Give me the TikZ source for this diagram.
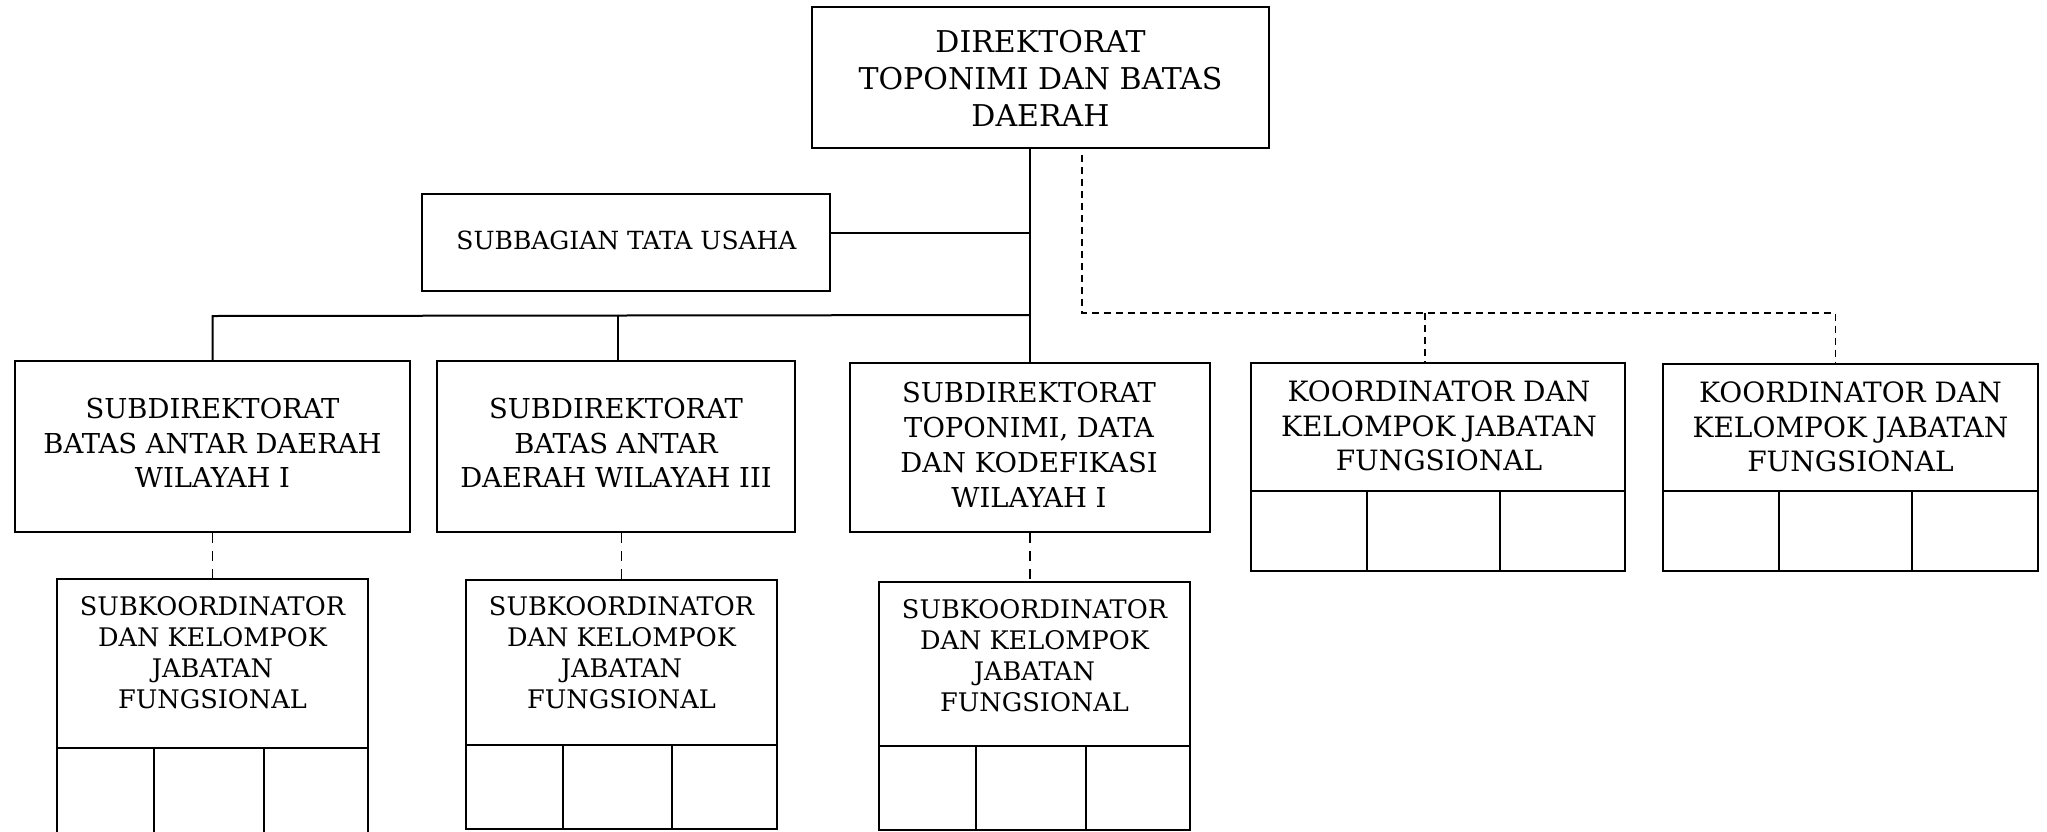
\documentclass[tikz,border=0pt]{standalone}
\usepackage{fontspec}
\setmainfont{DejaVu Serif}
\usetikzlibrary{fit}
\tikzset{
  box/.style={draw, line width=1pt, inner sep=0pt},
  cell/.style={draw, line width=1pt, inner sep=0pt},
  lbl/.style={align=center, inner sep=0pt},
  conn/.style={line width=1pt},
  dline/.style={line width=0.9pt, dash pattern=on 3.5pt off 2.5pt},
  dlow/.style={line width=0.9pt, dash pattern=on 5pt off 4pt},
  ftop/.style={font=\fontsize{15}{18.5}\selectfont},
  ftu/.style={font=\fontsize{12.5}{15}\selectfont},
  fsd/.style={font=\fontsize{13.7}{17.4}\selectfont},
  fko/.style={font=\fontsize{14}{17.2}\selectfont},
  fsk/.style={font=\fontsize{12.8}{15.5}\selectfont},
}
\begin{document}
\begin{tikzpicture}[x=0.5pt,y=-0.5pt]
\useasboundingbox (0,0) rectangle (2047,831);
\fill[white] (0,0) rectangle (2047,831);
\clip (0,0) rectangle (2047,831);

% main boxes
\node[box, fit={(812,7) (1269,148)}] (top) {};
\node[lbl, ftop] (topt) at (1040.5,78) {DIREKTORAT\\TOPONIMI DAN BATAS\\DAERAH};
\node[box, fit={(422,194) (830,291)}] (tu) {};
\node[lbl, ftu] (tut) at (626.5,240) {SUBBAGIAN TATA USAHA};
\node[box, fit={(15,361) (410,532)}] (sd1) {};
\node[lbl, fsd] (sd1t) at (212.5,443) {SUBDIREKTORAT\\BATAS ANTAR DAERAH\\WILAYAH I};
\node[box, fit={(437,361) (795,532)}] (sd2) {};
\node[lbl, fsd] (sd2t) at (616,443) {SUBDIREKTORAT\\BATAS ANTAR\\DAERAH WILAYAH III};
\node[box, fit={(850,363) (1210,532)}] (sd3) {};
\node[lbl, fsd] (sd3t) at (1029,445) {SUBDIREKTORAT\\TOPONIMI, DATA\\DAN KODEFIKASI\\WILAYAH I};

% koordinator boxes
\node[box, fit={(1251,363) (1625,491)}] (k1) {};
\node[lbl, fko] (k1t) at (1439,426) {KOORDINATOR DAN\\KELOMPOK JABATAN\\FUNGSIONAL};
\node[cell, fit={(1251,491) (1367,571)}] (k1a) {};
\node[cell, fit={(1367,491) (1500,571)}] (k1b) {};
\node[cell, fit={(1500,491) (1625,571)}] (k1c) {};
\node[box, fit={(1663,364) (2038,491)}] (k2) {};
\node[lbl, fko] (k2t) at (1850.5,427) {KOORDINATOR DAN\\KELOMPOK JABATAN\\FUNGSIONAL};
\node[cell, fit={(1663,491) (1779,571)}] (k2a) {};
\node[cell, fit={(1779,491) (1912,571)}] (k2b) {};
\node[cell, fit={(1912,491) (2038,571)}] (k2c) {};

% subkoordinator boxes
\node[box, fit={(57,579) (368,748)}] (sk1) {};
\node[lbl, fsk] (sk1t) at (212.5,653) {SUBKOORDINATOR\\DAN KELOMPOK\\JABATAN\\FUNGSIONAL};
\node[cell, fit={(57,748) (154,860)}] (sk1a) {};
\node[cell, fit={(154,748) (264,860)}] (sk1b) {};
\node[cell, fit={(264,748) (368,860)}] (sk1c) {};

\node[box, fit={(466,580) (777,745)}] (sk2) {};
\node[lbl, fsk] (sk2t) at (621.5,653) {SUBKOORDINATOR\\DAN KELOMPOK\\JABATAN\\FUNGSIONAL};
\node[cell, fit={(466,745) (563,829)}] (sk2a) {};
\node[cell, fit={(563,745) (672,829)}] (sk2b) {};
\node[cell, fit={(672,745) (777,829)}] (sk2c) {};

\node[box, fit={(879,582) (1190,746)}] (sk3) {};
\node[lbl, fsk] (sk3t) at (1034.5,656) {SUBKOORDINATOR\\DAN KELOMPOK\\JABATAN\\FUNGSIONAL};
\node[cell, fit={(879,746) (976,830)}] (sk3a) {};
\node[cell, fit={(976,746) (1086,830)}] (sk3b) {};
\node[cell, fit={(1086,746) (1190,830)}] (sk3c) {};

% solid connectors
\coordinate (busR) at (1030,315);
\coordinate (busL) at (212.5,316);
\coordinate (busM) at (618,315.5);
\draw[conn] (sd3.north |- top.south) -- (sd3.north);
\draw[conn] ([yshift=5pt]tu.east) -- ([yshift=5pt]tu.east -| sd3.north);
\draw[conn] (busR) -- (busL) -- (sd1.north);
\draw[conn] (busM) -- (busM |- sd2.north);

% dashed connectors
\coordinate (dc) at (1082,313);
\draw[dline] ([yshift=-3pt]top.south -| dc) -- (dc) -- ([xshift=-7.5pt]k2.north |- dc) -- ([xshift=-7.5pt]k2.north);
\draw[dline] ([xshift=-6.5pt]k1.north |- dc) -- ([xshift=-6.5pt]k1.north);
\draw[dlow] (sd1.south) -- (sk1.north);
\draw[dlow] (sk2.north |- sd2.south) -- (sk2.north);
\draw[dlow] (sd3.south) -- (sd3.south |- sk3.north);
\end{tikzpicture}
\end{document}
